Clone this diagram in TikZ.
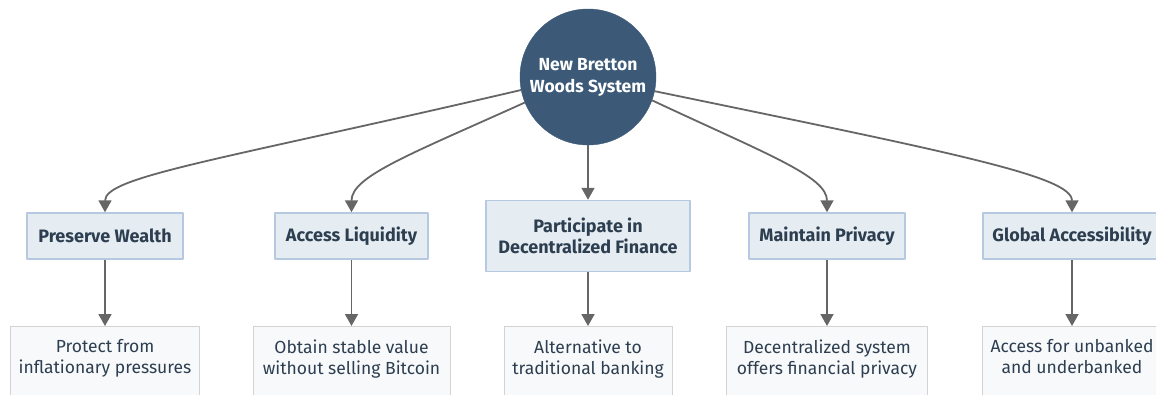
\documentclass[tikz,border=0pt]{standalone}
\usepackage{fontspec}
\setmainfont{Fira Sans}
\usetikzlibrary{arrows.meta}
\definecolor{hubblue}{HTML}{3C5A78}
\definecolor{goalfill}{HTML}{E6EDF2}
\definecolor{goalline}{HTML}{B6C9E0}
\definecolor{notefill}{HTML}{F8F9FA}
\definecolor{noteline}{HTML}{D3D3D3}
\definecolor{inktext}{HTML}{2C3E50}
\definecolor{edgegray}{HTML}{666666}
\tikzset{
  hub/.style={circle, fill=hubblue, draw=hubblue, minimum size=136pt, text=white,
    font=\fontsize{17.5}{22}\selectfont\bfseries, align=center, inner sep=0pt},
  goal/.style={draw=goalline, line width=1.5pt, fill=goalfill, text=inktext,
    font=\fontsize{18}{21}\selectfont\bfseries, align=center, inner ysep=4pt},
  note/.style={draw=noteline, line width=1pt, fill=notefill, text=inktext, anchor=north,
    font=\fontsize{17.5}{21}\selectfont, align=center, minimum height=80pt, inner ysep=13pt, text depth=40pt},
  link/.style={draw=edgegray, line width=1.8pt, -{Triangle[length=12pt,width=13pt]}}
}
\begin{document}
\begin{tikzpicture}[x=1pt, y=-1pt, line join=round]
  \useasboundingbox (0,0) rectangle (1156,394);
  \node[hub] (nbw) at (588,77) {New Bretton\\Woods System};
  % middle row
  \foreach \n/\x/\w/\h/\t in {pw/105/156/46/Preserve Wealth, al/351.5/153/46/Access Liquidity,
      pdf/588/204/71/{Participate in\\Decentralized Finance}, mp/827/156/46/Maintain Privacy,
      ga/1072/178/46/Global Accessibility}
    \node[goal, minimum width=\w, minimum height=\h] (\n) at (\x,236) {\t};
  % bottom row
  \foreach \n/\x/\w/\t in {pwn/105/189/{Protect from\\inflationary pressures},
      aln/351.5/197/{Obtain stable value\\without selling Bitcoin},
      pdfn/588/168/{Alternative to\\traditional banking},
      mpn/827/201/{Decentralized system\\offers financial privacy},
      gan/1072/180/{Access for unbanked\\and underbanked}}
    \node[note, minimum width=\w] (\n) at (\x,326) {\t};
  % hub to goals
  \draw[link] (nbw.191) .. controls +(-300,70) and +(0,-36) .. (pw.north);
  \draw[link] (nbw.202) .. controls +(-115,52) and +(0,-36) .. (al.north);
  \draw[link] (nbw.south) -- (pdf.north);
  \draw[link] (nbw.-20) .. controls +(115,54) and +(0,-36) .. (mp.north);
  \draw[link] (nbw.-12) .. controls +(300,62) and +(0,-36) .. (ga.north);
  % goals to notes
  \foreach \a/\b in {pw/pwn, al/aln, pdf/pdfn, mp/mpn, ga/gan}
    \draw[link] (\a) -- (\b);
\end{tikzpicture}
\end{document}
